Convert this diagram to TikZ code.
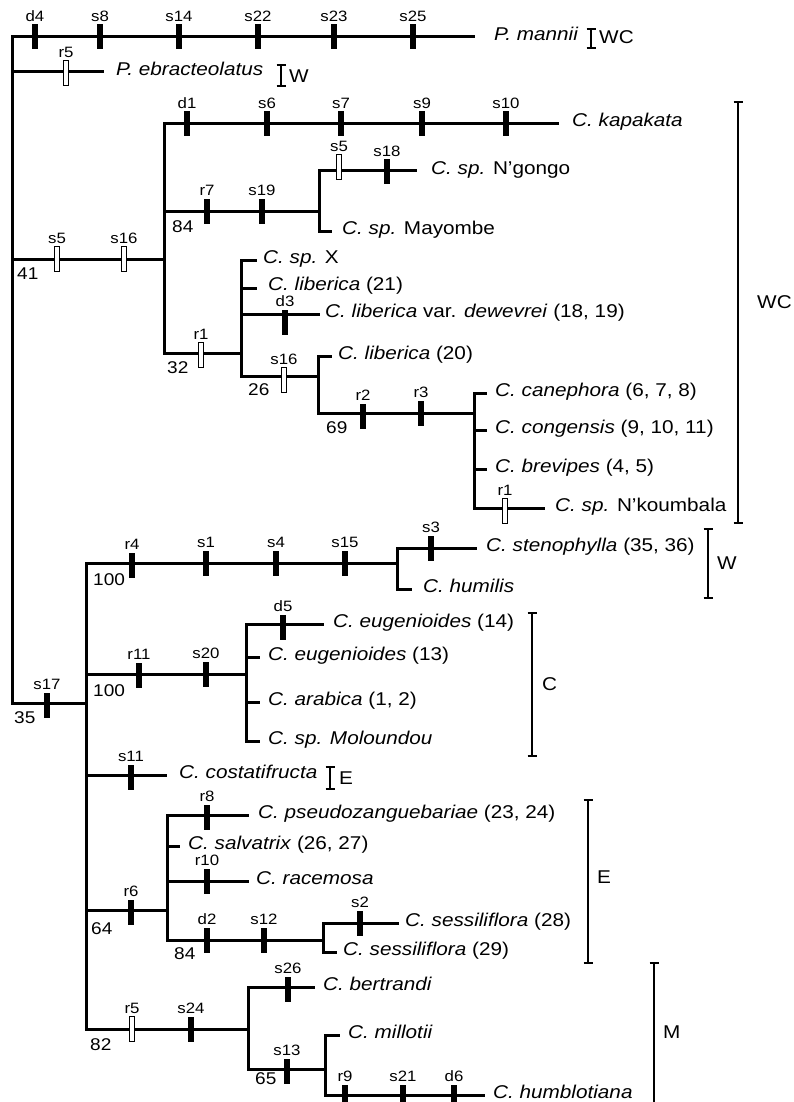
\documentclass[tikz,border=0pt]{standalone}
\usepackage{fontspec}
\setmainfont{Liberation Sans}[FakeStretch=1.12]
\newcommand\spfont{\fontsize{18.5}{20}\selectfont}
\newcommand\tkfont{\fontsize{15}{17}\selectfont}
\newcommand\bsfont{\fontsize{17}{19}\selectfont}
\tikzset{
  br/.style={line width=3pt, line cap=rect},
  brk/.style={line width=2.4pt},
  ctick/.style={rectangle, fill=black, draw=none, minimum width=6pt, minimum height=25pt, inner sep=0pt},
  otick/.style={rectangle, fill=white, draw=black, line width=1.1pt, minimum width=5.5pt, minimum height=25pt, inner sep=0pt},
  tlab/.style={anchor=south, inner sep=0pt, yshift=2.5pt, font=\tkfont},
  sp/.style={anchor=base west, inner sep=0pt, font=\spfont},
  sup/.style={anchor=north west, inner sep=0pt, font=\bsfont},
  grp/.style={anchor=west, inner sep=0pt, font=\spfont},
}
\newcommand\ct[4]{\node[ctick] (#1) at (#2,#3) {}; \node[tlab] (#1l) at (#1.north) {#4};}
\newcommand\ot[4]{\node[otick] (#1) at (#2,#3) {}; \node[tlab] (#1l) at (#1.north) {#4};}
\newcommand\grpbar[4]{%
  \coordinate (#1a) at (#2,#3); \coordinate (#1b) at (#2,#4);
  \draw[brk] (#1a) -- (#1b);
  \draw[brk] ([xshift=-4.5pt]#1a) -- ([xshift=4.5pt]#1a);
  \draw[brk] ([xshift=-4.5pt]#1b) -- ([xshift=4.5pt]#1b);}
\begin{document}
\begin{tikzpicture}[x=1pt,y=-1pt]
\useasboundingbox (0,0) rectangle (794,1102);
% ---------- coordinates: upper part
\coordinate (A0) at (12,37);
\coordinate (A1) at (12,72);
\coordinate (A2) at (12,259);
\coordinate (A3) at (12,703);
\coordinate (mE) at (473,37);
\coordinate (ebE) at (102,72);
\coordinate (B0) at (164,124);
\coordinate (B1) at (164,259);
\coordinate (B2) at (164,211);
\coordinate (B3) at (164,353);
\coordinate (kapE) at (557,124);
\coordinate (D0) at (319,171);
\coordinate (D1) at (319,211);
\coordinate (D2) at (319,231);
\coordinate (ngE) at (415,171);
\coordinate (maE) at (330,231);
\coordinate (F0) at (241,260);
\coordinate (F1) at (241,288);
\coordinate (F2) at (241,314);
\coordinate (F3) at (241,353);
\coordinate (F4) at (241,376);
\coordinate (xE) at (255,260);
\coordinate (l21E) at (255,288);
\coordinate (dwE) at (318,314);
\coordinate (G0) at (318,356);
\coordinate (G1) at (318,376);
\coordinate (G2) at (318,413);
\coordinate (l20E) at (330,356);
\coordinate (H0) at (474,393);
\coordinate (H1) at (474,413);
\coordinate (H2) at (474,430);
\coordinate (H3) at (474,469);
\coordinate (H4) at (474,508);
\coordinate (caE) at (485,393);
\coordinate (coE) at (485,430);
\coordinate (brE) at (485,469);
\coordinate (nkE) at (543,508);
% ---------- coordinates: lower part
\coordinate (K0) at (86,563);
\coordinate (K1) at (86,674);
\coordinate (K2) at (86,703);
\coordinate (K3) at (86,775);
\coordinate (K4) at (86,910);
\coordinate (K5) at (86,1029);
\coordinate (L0) at (397,548);
\coordinate (L1) at (397,563);
\coordinate (L2) at (397,589);
\coordinate (stE) at (475,548);
\coordinate (huE) at (410,589);
\coordinate (M0) at (246,624);
\coordinate (M1) at (246,657);
\coordinate (M2) at (246,674);
\coordinate (M3) at (246,702);
\coordinate (M4) at (246,741);
\coordinate (e14E) at (322,624);
\coordinate (e13E) at (258,657);
\coordinate (arE) at (258,702);
\coordinate (moE) at (258,741);
\coordinate (csE) at (165,775);
\coordinate (N0) at (167,815);
\coordinate (N1) at (167,846);
\coordinate (N2) at (167,881);
\coordinate (N3) at (167,910);
\coordinate (N4) at (167,940);
\coordinate (psE) at (247,815);
\coordinate (saE) at (178,846);
\coordinate (raE) at (247,881);
\coordinate (P0) at (323,923);
\coordinate (P1) at (323,940);
\coordinate (P2) at (323,952);
\coordinate (s28E) at (397,923);
\coordinate (s29E) at (335,952);
\coordinate (Q0) at (248,987);
\coordinate (Q1) at (248,1029);
\coordinate (Q2) at (248,1069);
\coordinate (beE) at (313,987);
\coordinate (S0) at (325,1035);
\coordinate (S1) at (325,1069);
\coordinate (S2) at (325,1095);
\coordinate (miE) at (338,1035);
\coordinate (hbE) at (483,1095);
% ---------- branches
\draw[br] (A0) -- (A3);
\draw[br] (A0) -- (mE);
\draw[br] (A1) -- (ebE);
\draw[br] (A2) -- (B1);
\draw[br] (B0) -- (B3);
\draw[br] (B0) -- (kapE);
\draw[br] (B2) -- (D1);
\draw[br] (D0) -- (D2);
\draw[br] (D0) -- (ngE);
\draw[br] (D2) -- (maE);
\draw[br] (B3) -- (F3);
\draw[br] (F0) -- (F4);
\draw[br] (F0) -- (xE);
\draw[br] (F1) -- (l21E);
\draw[br] (F2) -- (dwE);
\draw[br] (F4) -- (G1);
\draw[br] (G0) -- (G2);
\draw[br] (G0) -- (l20E);
\draw[br] (G2) -- (H1);
\draw[br] (H0) -- (H4);
\draw[br] (H0) -- (caE);
\draw[br] (H2) -- (coE);
\draw[br] (H3) -- (brE);
\draw[br] (H4) -- (nkE);
\draw[br] (A3) -- (K2);
\draw[br] (K0) -- (K5);
\draw[br] (K0) -- (L1);
\draw[br] (L0) -- (L2);
\draw[br] (L0) -- (stE);
\draw[br] (L2) -- (huE);
\draw[br] (K1) -- (M2);
\draw[br] (M0) -- (M4);
\draw[br] (M0) -- (e14E);
\draw[br] (M1) -- (e13E);
\draw[br] (M3) -- (arE);
\draw[br] (M4) -- (moE);
\draw[br] (K3) -- (csE);
\draw[br] (K4) -- (N3);
\draw[br] (N0) -- (N4);
\draw[br] (N0) -- (psE);
\draw[br] (N1) -- (saE);
\draw[br] (N2) -- (raE);
\draw[br] (N4) -- (P1);
\draw[br] (P0) -- (P2);
\draw[br] (P0) -- (s28E);
\draw[br] (P2) -- (s29E);
\draw[br] (K5) -- (Q1);
\draw[br] (Q0) -- (Q2);
\draw[br] (Q0) -- (beE);
\draw[br] (Q2) -- (S1);
\draw[br] (S0) -- (S2);
\draw[br] (S0) -- (miE);
\draw[br] (S2) -- (hbE);
% ---------- character ticks
\ct{ta}{35}{37}{d4} \ct{tb}{100}{37}{s8} \ct{tc}{179}{37}{s14}
\ct{td}{258}{37}{s22} \ct{te}{334}{37}{s23} \ct{tf}{413}{37}{s25}
\ot{tg}{66}{73}{r5}
\ot{th}{57}{259}{s5} \ot{ti}{124}{259}{s16}
\ct{tj}{187}{124}{d1} \ct{tk}{267}{124}{s6} \ct{tl}{341}{124}{s7}
\ct{tm}{422}{124}{s9} \ct{tn}{506}{124}{s10}
\ct{to}{207}{211}{r7} \ct{tp}{262}{211}{s19}
\ot{tq}{339}{167}{s5} \ct{tr}{387}{172}{s18}
\ot{ts}{201}{355}{r1}
\ct{tt}{285}{322}{d3}
\ot{tu}{284}{380}{s16}
\ct{tv}{363}{416}{r2} \ct{tw}{421}{413}{r3}
\ot{tx}{505}{511}{r1}
\ct{ty}{47}{705}{s17}
\ct{uA}{132}{565}{r4} \ct{uB}{206}{563}{s1} \ct{uC}{276}{563}{s4} \ct{uD}{345}{563}{s15}
\ct{uE}{431}{548}{s3}
\ct{uF}{139}{675}{r11} \ct{uG}{206}{674}{s20}
\ct{uH}{283}{627}{d5}
\ct{uI}{131}{777}{s11}
\ct{uJ}{131}{912}{r6}
\ct{uK}{207}{817}{r8}
\ct{uL}{207}{881}{r10}
\ct{uM}{207}{940}{d2} \ct{uN}{264}{940}{s12}
\ct{uO}{360}{923}{s2}
\ot{uP}{132}{1029}{r5} \ct{uQ}{191}{1029}{s24}
\ct{uR}{288}{989}{s26}
\ct{uS}{287}{1071}{s13}
\ct{uT}{345}{1097}{r9} \ct{uU}{403}{1097}{s21} \ct{uV}{454}{1097}{d6}
% ---------- support values
\node[sup] (b41) at (17,268) {41};
\node[sup] (b84a) at (172,220) {84};
\node[sup] (b32) at (167,361) {32};
\node[sup] (b26) at (248,383) {26};
\node[sup] (b69) at (326,421) {69};
\node[sup] (b100a) at (93,573) {100};
\node[sup] (b100b) at (93,684) {100};
\node[sup] (b35) at (14,711) {35};
\node[sup] (b64) at (91,922) {64};
\node[sup] (b84b) at (174,947) {84};
\node[sup] (b82) at (90,1038) {82};
\node[sup] (b65) at (255,1072) {65};
% ---------- taxa
\node[sp] (n1) at (494,40.5) {\textit{P. mannii}};
\node[sp] (n2) at (116,76) {\textit{P. ebracteolatus}};
\node[sp] (n3) at (572,126.5) {\textit{C. kapakata}};
\node[sp] (n4) at (431,174.5) {\textit{C. sp.} N'gongo};
\node[sp] (n5) at (342,234.5) {\textit{C. sp.} Mayombe};
\node[sp] (n6) at (263,263.5) {\textit{C. sp.} X};
\node[sp] (n7) at (268,290.5) {\textit{C. liberica} (21)};
\node[sp] (n8) at (325,317.5) {\textit{C. liberica} var. \textit{dewevrei} (18, 19)};
\node[sp] (n9) at (338,359.5) {\textit{C. liberica} (20)};
\node[sp] (n10) at (495,396.5) {\textit{C. canephora} (6, 7, 8)};
\node[sp] (n11) at (495,433.5) {\textit{C. congensis} (9, 10, 11)};
\node[sp] (n12) at (495,472.5) {\textit{C. brevipes} (4, 5)};
\node[sp] (n13) at (555,511.5) {\textit{C. sp.} N'koumbala};
\node[sp] (n14) at (486,551.5) {\textit{C. stenophylla} (35, 36)};
\node[sp] (n15) at (423,592.5) {\textit{C. humilis}};
\node[sp] (n16) at (333,627.5) {\textit{C. eugenioides} (14)};
\node[sp] (n17) at (268,660.5) {\textit{C. eugenioides} (13)};
\node[sp] (n18) at (268,705.5) {\textit{C. arabica} (1, 2)};
\node[sp] (n19) at (268,744.5) {\textit{C. sp. Moloundou}};
\node[sp] (n20) at (179,778.5) {\textit{C. costatifructa}};
\node[sp] (n21) at (258,818.5) {\textit{C. pseudozanguebariae} (23, 24)};
\node[sp] (n22) at (188,849.5) {\textit{C. salvatrix} (26, 27)};
\node[sp] (n23) at (256,884.5) {\textit{C. racemosa}};
\node[sp] (n24) at (405,926.5) {\textit{C. sessiliflora} (28)};
\node[sp] (n25) at (343,955.5) {\textit{C. sessiliflora} (29)};
\node[sp] (n26) at (323,990.5) {\textit{C. bertrandi}};
\node[sp] (n27) at (348,1038.5) {\textit{C. millotii}};
\node[sp] (n28) at (493,1098.5) {\textit{C. humblotiana}};
% ---------- geographic groups
\grpbar{g1}{591}{29}{48}
\node[grp] (w1) at (599,37.5) {WC};
\grpbar{g2}{281}{65}{86}
\node[grp] (w2) at (289,76) {W};
\grpbar{g3}{738}{102}{523}
\node[grp] (w3) at (757,302) {WC};
\grpbar{g4}{708}{529}{598}
\node[grp] (w4) at (717,563) {W};
\grpbar{g5}{532}{613}{756}
\node[grp] (w5) at (542,684) {C};
\grpbar{g6}{330}{767}{789}
\node[grp] (w6) at (339,778) {E};
\grpbar{g7}{588}{800}{963}
\node[grp] (w7) at (597,877) {E};
\grpbar{g8}{654}{963}{1110}
\node[grp] (w8) at (663,1032) {M};
\end{tikzpicture}
\end{document}
